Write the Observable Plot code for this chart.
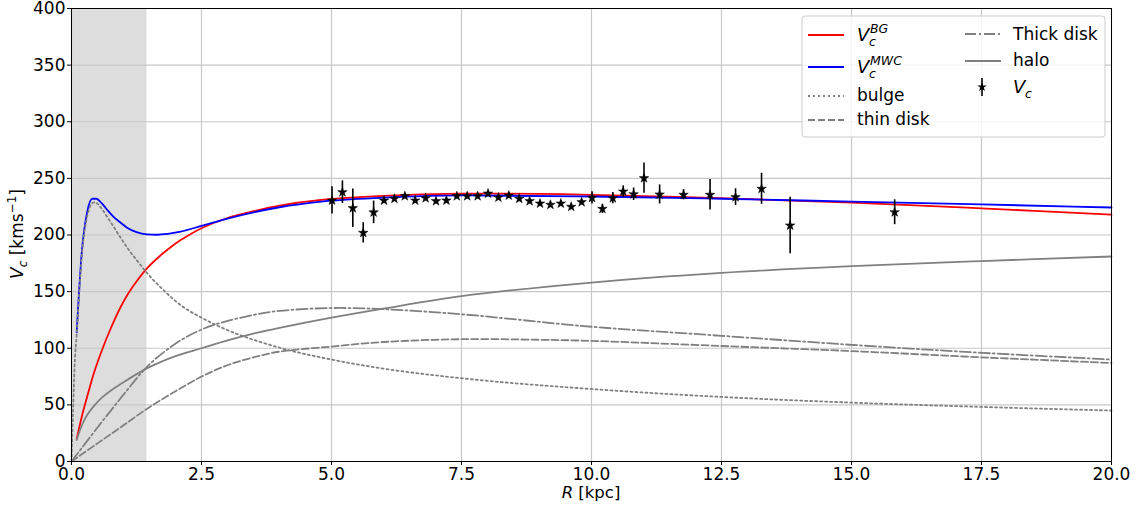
<!DOCTYPE html>
<html>
<head>
<meta charset="utf-8">
<script src="https://cdn.jsdelivr.net/npm/d3@7"></script>
<script src="https://cdn.jsdelivr.net/npm/@observablehq/plot@0.6"></script>
<style>
  html, body { margin: 0; padding: 0; background: white; }
  #chart { position: relative; width: 1141px; height: 510px; }
</style>
</head>
<body>
<div id="chart"></div>
<script>
// ---------- data ----------
const xTicks = [0, 2.5, 5, 7.5, 10, 12.5, 15, 17.5, 20];
const yTicks = [0, 50, 100, 150, 200, 250, 300, 350, 400];
const shadeR = [0, 1.45];

const bgR = [0.1, 0.2, 0.3, 0.43, 0.6, 0.75, 0.94, 1.1, 1.25, 1.46, 1.7, 1.9, 2.1, 2.5, 3.0, 3.5, 4.0, 4.8, 6.0, 7.5, 9.0, 10, 12.5, 15, 17.5, 20];
const bgV = [20, 40, 57, 78, 100, 117, 136, 149, 159, 171, 181.5, 189, 195.5, 206, 215, 221, 226, 231, 234.5, 236.5, 236.3, 235.5, 232.5, 228.5, 223.5, 218];

const mwcR = [0.1, 0.2, 0.3, 0.4, 0.48, 0.55, 0.62, 0.7, 0.81, 0.94, 1.07, 1.25, 1.45, 1.65, 1.85, 2.1, 2.5, 3.0, 3.5, 4.0, 4.8, 6.0, 7.5, 10, 12.5, 15, 17.5, 20];
const mwcV = [114, 186, 220, 232, 232, 229.5, 226, 221.5, 216, 211, 206.5, 202.5, 200.5, 200.2, 201, 203, 208, 214.5, 220, 224.5, 229.5, 233, 235, 234, 232, 229.5, 227, 224.3];

const bulgeR = [0, 0.03, 0.06, 0.1, 0.15, 0.2, 0.3, 0.4, 0.45, 0.5, 0.6, 0.7, 0.8, 0.94, 1.1, 1.25, 1.46, 1.6, 1.8, 2.1, 2.5, 3.0, 3.5, 4.0, 5.0, 6.0, 7.5, 10, 12.5, 15, 17.5, 20];
const bulgeV = [0, 45, 85, 112, 150, 183, 216, 228, 229, 227.5, 222, 215, 208, 198, 187, 178, 166, 159, 150, 138, 127, 116, 107.5, 100.5, 90, 82, 73.5, 64, 57, 52, 48.2, 45];

const thinR = [0, 0.5, 1.0, 1.5, 2.0, 2.5, 3.0, 3.5, 4.0, 5.0, 6.0, 7.5, 9.0, 10, 12.5, 15, 17.5, 20];
const thinV = [0, 16, 32, 48, 62, 75, 85, 92, 97, 101.5, 105.5, 108, 107.5, 106.5, 102, 97.5, 92, 87];

const thickR = [0, 0.5, 1.0, 1.36, 1.6, 2.1, 2.5, 2.8, 3.5, 4.0, 5.0, 6.0, 7.5, 10, 12.5, 15, 17.5, 20];
const thickV = [0, 30, 59, 79, 90, 107, 116.5, 121.5, 129.5, 133, 135.5, 134.5, 130, 119, 111, 103, 96, 90];

const haloR = [0.1, 0.2, 0.3, 0.45, 0.6, 0.8, 1.0, 1.36, 1.6, 2.0, 2.5, 3.0, 3.5, 4.0, 5.0, 6.0, 7.5, 10, 12.5, 15, 17.5, 20];
const haloV = [19, 32, 41, 50, 57, 64, 70, 80, 85.5, 93, 100, 107, 113, 118, 127, 135, 146, 158, 166.5, 172.5, 177, 181];

const obsR = [5.01, 5.21, 5.41, 5.61, 5.81, 6.01, 6.21, 6.41, 6.61, 6.81, 7.01, 7.21, 7.41, 7.61, 7.81, 8.01, 8.21, 8.41, 8.61, 8.81, 9.01, 9.21, 9.41, 9.61, 9.81, 10.01, 10.21, 10.41, 10.61, 10.81, 11.01, 11.31, 11.77, 12.28, 12.77, 13.27, 13.82, 15.83];
const obsV = [230.5, 237.8, 223.7, 201.9, 220, 230.5, 232, 234.3, 230.5, 232.5, 229.9, 230.5, 234.3, 234.3, 234.3, 236.6, 233.1, 234.9, 232, 229.9, 227.8, 226.7, 227.8, 224.9, 229, 232.8, 223.1, 232.5, 238.4, 236, 250.2, 235.8, 235.5, 235.5, 233.4, 240.8, 208.4, 220.1];
const obsErr = [12, 10, 17, 9, 10, 2.5, 2.5, 2.5, 2.5, 2.5, 2.5, 2.5, 2.5, 2.5, 2.5, 2.5, 2.5, 2.5, 2.5, 2.5, 2.5, 2.5, 2.5, 2.5, 2.5, 5.5, 4, 5, 5, 5.5, 13.4, 8.4, 4.5, 13.4, 7.4, 13.7, 25, 11];

// ---------- build tables ----------
const toPts = (R, V) => R.map((r, i) => ({R: r, V: V[i]}));
const bg = toPts(bgR, bgV), mwc = toPts(mwcR, mwcV), bulge = toPts(bulgeR, bulgeV);
const thin = toPts(thinR, thinV), thick = toPts(thickR, thickV), halo = toPts(haloR, haloV);
const obs = obsR.map((r, i) => ({R: r, V: obsV[i], e: obsErr[i]}));

const GRAY = "#808080";
const DOT = "2,3", DASH = "7,3", DASHDOT = "11,3,2,3";

const plot = Plot.plot({
  width: 1141, height: 510,
  marginLeft: 71, marginRight: 30, marginTop: 8, marginBottom: 49,
  x: {domain: [0, 20]},
  y: {domain: [0, 400]},
  style: {fontFamily: "DejaVu Sans", fontSize: "17px", color: "black", background: "white"},
  marks: [
    Plot.rect([shadeR], {x1: d => d[0], x2: d => d[1], y1: 0, y2: 400, fill: "#dddddd"}),
    Plot.gridX(xTicks, {stroke: "#c8c8c8", strokeOpacity: 1, strokeWidth: 1.2}),
    Plot.gridY(yTicks, {stroke: "#c8c8c8", strokeOpacity: 1, strokeWidth: 1.2}),
    Plot.line(bg, {x: "R", y: "V", stroke: "#ff0000", strokeWidth: 1.8, curve: "catmull-rom"}),
    Plot.line(mwc, {x: "R", y: "V", stroke: "#0000ff", strokeWidth: 1.8, curve: "monotone-x"}),
    Plot.line(bulge, {x: "R", y: "V", stroke: GRAY, strokeWidth: 1.8, strokeDasharray: DOT, curve: "monotone-x"}),
    Plot.line(thin, {x: "R", y: "V", stroke: GRAY, strokeWidth: 1.8, strokeDasharray: DASH, curve: "catmull-rom"}),
    Plot.line(thick, {x: "R", y: "V", stroke: GRAY, strokeWidth: 1.8, strokeDasharray: DASHDOT, curve: "catmull-rom"}),
    Plot.line(halo, {x: "R", y: "V", stroke: GRAY, strokeWidth: 1.8, curve: "catmull-rom"}),
    Plot.ruleX(obs, {x: "R", y1: d => d.V - d.e, y2: d => d.V + d.e, stroke: "black", strokeWidth: 1.6}),
    Plot.dot(obs, {x: "R", y: "V", symbol: "star", r: 3, fill: "black", stroke: "black", strokeWidth: 0.5}),
    Plot.axisX(xTicks, {tickSize: 4, tickPadding: 2, fontSize: 17, tickFormat: d => d.toFixed(1), label: null}),
    Plot.axisY(yTicks, {tickSize: 4, tickPadding: 2, fontSize: 17, label: null}),
    Plot.frame({stroke: "black", strokeWidth: 1})
  ]
});
document.getElementById("chart").appendChild(plot);

// ---------- axis labels & legend ----------
const svg = d3.select(plot);
const FONT = "DejaVu Sans";

// x label
const xl = svg.append("text").attr("x", 591).attr("y", 498).attr("text-anchor", "middle")
  .attr("font-family", FONT).attr("font-size", 16.5).attr("fill", "black");
xl.append("tspan").attr("font-style", "italic").text("R");
xl.append("tspan").text(" [kpc]");

// y label
const yl = svg.append("text").attr("transform", "translate(23,234) rotate(-90)").attr("text-anchor", "middle")
  .attr("font-family", FONT).attr("font-size", 17).attr("fill", "black");
yl.append("tspan").attr("font-style", "italic").text("V");
yl.append("tspan").attr("font-style", "italic").attr("font-size", 12).attr("dy", 4).text("c");
yl.append("tspan").attr("dy", -4).text(" [kms");
yl.append("tspan").attr("font-size", 12).attr("dy", -7).text("−1");
yl.append("tspan").attr("dy", 7).text("]");

// legend
const lg = svg.append("g").attr("font-family", FONT).attr("fill", "black").attr("text-anchor", "start");
lg.append("rect").attr("x", 802).attr("y", 16).attr("width", 303).attr("height", 121).attr("rx", 3)
  .attr("fill", "white").attr("fill-opacity", 0.8).attr("stroke", "#cccccc");

const legendLines = [
  {x: 808, y: 35, color: "#ff0000", dash: null},
  {x: 808, y: 67, color: "#0000ff", dash: null},
  {x: 808, y: 96, color: GRAY, dash: DOT},
  {x: 808, y: 120, color: GRAY, dash: DASH},
  {x: 965, y: 34, color: GRAY, dash: DASHDOT},
  {x: 965, y: 61, color: GRAY, dash: null}
];
legendLines.forEach(d => {
  const l = lg.append("line").attr("x1", d.x).attr("x2", d.x + 36).attr("y1", d.y).attr("y2", d.y)
    .attr("stroke", d.color).attr("stroke-width", 1.8);
  if (d.dash) l.attr("stroke-dasharray", d.dash);
});

function vLabel(x, y, sup) {
  lg.append("text").attr("x", x).attr("y", y).attr("font-size", 18).attr("font-style", "italic").text("V");
  lg.append("text").attr("x", x + 12).attr("y", y + 5).attr("font-size", 12.5).attr("font-style", "italic").text("c");
  if (sup) lg.append("text").attr("x", x + 13).attr("y", y - 8).attr("font-size", 12.5).attr("font-style", "italic").text(sup);
}
vLabel(857, 41, "BG");
vLabel(857, 73, "MWC");
lg.append("text").attr("x", 857).attr("y", 101).attr("font-size", 17).text("bulge");
lg.append("text").attr("x", 857).attr("y", 125).attr("font-size", 17).text("thin disk");
lg.append("text").attr("x", 1013).attr("y", 40).attr("font-size", 17).text("Thick disk");
lg.append("text").attr("x", 1013).attr("y", 66).attr("font-size", 17).text("halo");
vLabel(1013, 93, null);

// errorbar legend swatch
lg.append("line").attr("x1", 982).attr("x2", 982).attr("y1", 78).attr("y2", 96).attr("stroke", "black").attr("stroke-width", 1.6);
lg.append("path").attr("d", d3.symbol(d3.symbolStar, 28)()).attr("transform", "translate(982,87)").attr("fill", "black");
</script>
</body>
</html>
